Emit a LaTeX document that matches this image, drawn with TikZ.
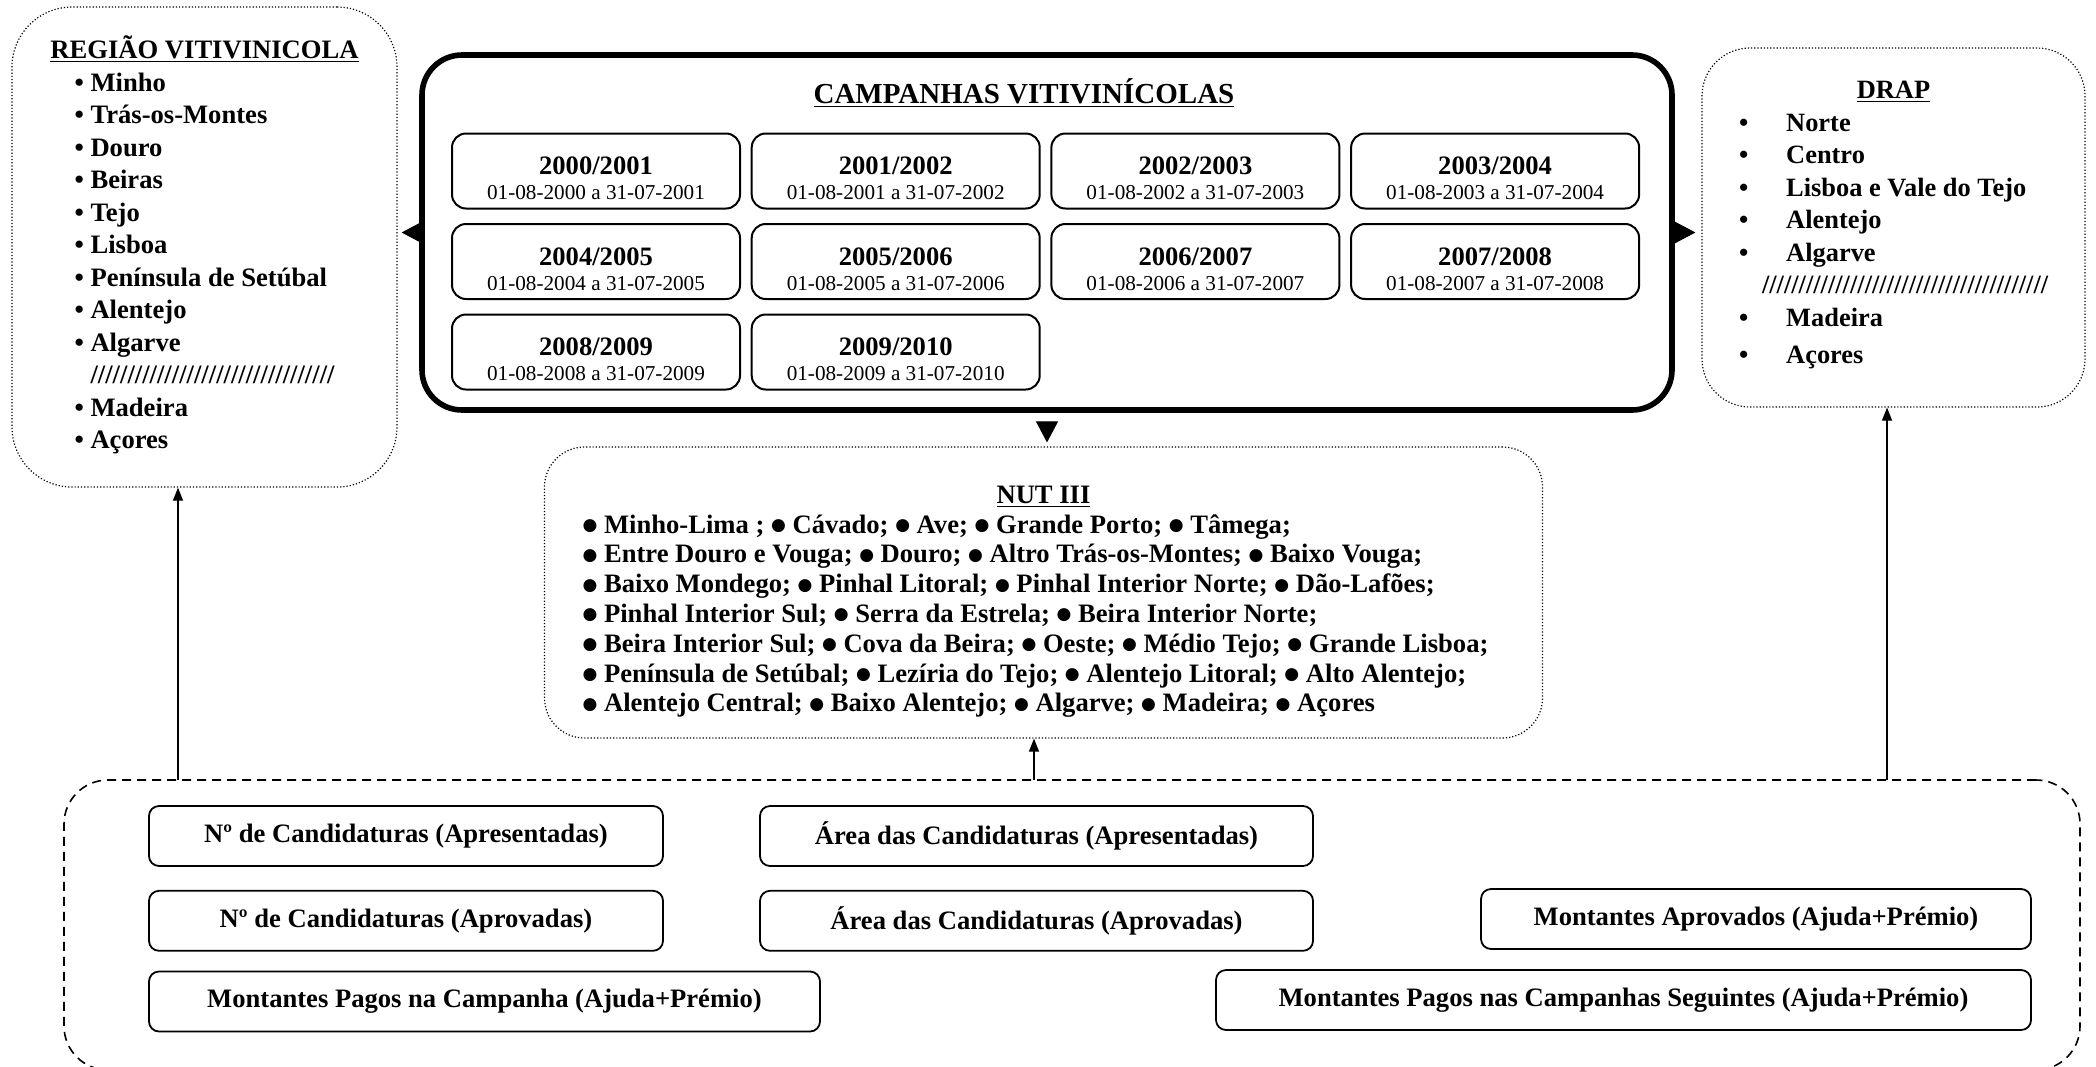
\documentclass[tikz,border=0pt]{standalone}
\usepackage{fontspec}
\setmainfont{Liberation Serif}
\newfontfamily\simbolo{DejaVu Sans}
\usetikzlibrary{positioning,arrows.meta}

\newcommand{\nb}{\raisebox{1.3pt}{\simbolo\fontsize{8.5}{10}\selectfont ●}\ }

\begin{document}
\begin{tikzpicture}[x=0.5pt, y=-0.5pt,
    lista/.style={draw, densely dotted, line width=0.6pt, align=center, inner sep=0pt},
    quadro/.style={draw, line width=2.8pt, rounded corners=20pt, minimum width=625pt, minimum height=177.5pt},
    campanha/.style={draw, line width=1pt, rounded corners=7pt, minimum width=144pt, minimum height=37.5pt, align=center, inner sep=0pt, font=\fontsize{10.6}{12.5}\selectfont},
    indicador/.style={draw, line width=0.9pt, rounded corners=5pt, minimum height=30pt, inner sep=0pt, font=\fontsize{13.3}{15}\selectfont\bfseries},
    fundo/.style={draw, dash pattern=on 4.5pt off 3pt, line width=0.8pt, rounded corners=22pt, minimum width=1008pt, minimum height=145pt},
    lado/.style={-{Triangle[length=10.5pt,width=11pt]}, line width=0.5pt},
    sobe/.style={-{Triangle[length=6.5pt,width=5pt]}, line width=0.6pt}]

    \useasboundingbox (0,0) rectangle (2096,1066);

    % regioes vitivinicolas
    \node[lista, rounded corners=30pt, minimum width=192.5pt, minimum height=240pt,
          font=\fontsize{13.3}{16.25}\selectfont\bfseries] (regiao) at (204.5,247) {\underline{REGIÃO VITIVINICOLA}\\
        \begin{tabular}[t]{@{}l@{}}
        \textbullet\ Minho\\
        \textbullet\ Trás-os-Montes\\
        \textbullet\ Douro\\
        \textbullet\ Beiras\\
        \textbullet\ Tejo\\
        \textbullet\ Lisboa\\
        \textbullet\ Península de Setúbal\\
        \textbullet\ Alentejo\\
        \textbullet\ Algarve\\
        \phantom{\textbullet\ }/////////////////////////////////\\
        \textbullet\ Madeira\\
        \textbullet\ Açores
        \end{tabular}};

    % campanhas
    \node[quadro] (campanhas) at (1047,232.5) {};
    \node[anchor=base, font=\fontsize{14.5}{17}\selectfont\bfseries] (titulo) at (1024,103) {\underline{CAMPANHAS VITIVINÍCOLAS}};

    \node[campanha] (c1) at (596,171) {{\fontsize{13.3}{12.5}\selectfont\bfseries\rule{0pt}{16.5pt}2000/2001}\\01-08-2000 a 31-07-2001};
    \node[campanha, right=4.85pt of c1] (c2) {{\fontsize{13.3}{12.5}\selectfont\bfseries\rule{0pt}{16.5pt}2001/2002}\\01-08-2001 a 31-07-2002};
    \node[campanha, right=4.85pt of c2] (c3) {{\fontsize{13.3}{12.5}\selectfont\bfseries\rule{0pt}{16.5pt}2002/2003}\\01-08-2002 a 31-07-2003};
    \node[campanha, right=4.85pt of c3] (c4) {{\fontsize{13.3}{12.5}\selectfont\bfseries\rule{0pt}{16.5pt}2003/2004}\\01-08-2003 a 31-07-2004};
    \node[campanha, below=6.75pt of c1] (c5) {{\fontsize{13.3}{12.5}\selectfont\bfseries\rule{0pt}{16.5pt}2004/2005}\\01-08-2004 a 31-07-2005};
    \node[campanha, right=4.85pt of c5] (c6) {{\fontsize{13.3}{12.5}\selectfont\bfseries\rule{0pt}{16.5pt}2005/2006}\\01-08-2005 a 31-07-2006};
    \node[campanha, right=4.85pt of c6] (c7) {{\fontsize{13.3}{12.5}\selectfont\bfseries\rule{0pt}{16.5pt}2006/2007}\\01-08-2006 a 31-07-2007};
    \node[campanha, right=4.85pt of c7] (c8) {{\fontsize{13.3}{12.5}\selectfont\bfseries\rule{0pt}{16.5pt}2007/2008}\\01-08-2007 a 31-07-2008};
    \node[campanha, below=6.75pt of c5] (c9) {{\fontsize{13.3}{12.5}\selectfont\bfseries\rule{0pt}{16.5pt}2008/2009}\\01-08-2008 a 31-07-2009};
    \node[campanha, right=4.85pt of c9] (c10) {{\fontsize{13.3}{12.5}\selectfont\bfseries\rule{0pt}{16.5pt}2009/2010}\\01-08-2009 a 31-07-2010};

    % DRAP
    \node[lista, rounded corners=24pt, minimum width=191.5pt, minimum height=179.5pt,
          font=\fontsize{13.2}{16.25}\selectfont\bfseries] (drap) at (1893.5,227.5) {\underline{DRAP}\\
        \begin{tabular}[t]{@{}l@{\hspace{19pt}}l@{}}
        \textbullet & Norte\\
        \textbullet & Centro\\
        \textbullet & Lisboa e Vale do Tejo\\
        \textbullet & Alentejo\\
        \textbullet & Algarve\\
        \multicolumn{2}{@{\hspace{11.5pt}}l@{}}{///////////////////////////////////////}\\
        \textbullet & Madeira\\[2.5pt]
        \textbullet & Açores
        \end{tabular}};

    % NUT III
    \node[lista, rounded corners=20pt, minimum width=499pt, minimum height=145.5pt,
          font=\fontsize{13.3}{14.9}\selectfont\bfseries] (nut) at (1043.5,592.5) {\rule{0pt}{19.5pt}\underline{NUT III}\\
        \begin{tabular}[t]{@{}l@{\hspace{8pt}}}
        \nb Minho-Lima ; \nb Cávado; \nb Ave; \nb Grande Porto; \nb Tâmega;\\
        \nb Entre Douro e Vouga; \nb Douro; \nb Altro Trás-os-Montes; \nb Baixo Vouga;\\
        \nb Baixo Mondego; \nb Pinhal Litoral; \nb Pinhal Interior Norte; \nb Dão-Lafões;\\
        \nb Pinhal Interior Sul; \nb Serra da Estrela; \nb Beira Interior Norte;\\
        \nb Beira Interior Sul; \nb Cova da Beira; \nb Oeste; \nb Médio Tejo; \nb Grande Lisboa;\\
        \nb Península de Setúbal; \nb Lezíria do Tejo; \nb Alentejo Litoral; \nb Alto Alentejo;\\
        \nb Alentejo Central; \nb Baixo Alentejo; \nb Algarve; \nb Madeira; \nb Açores
        \end{tabular}};

    % indicadores
    \node[fundo] (fundo) at (1072,925) {};
    \node[indicador, minimum width=257pt] (apres) at (406,836) {Nº de Candidaturas (Apresentadas)};
    \node[indicador, minimum width=276.5pt] (areaapres) at (1036.5,836) {Área das Candidaturas (Apresentadas)};
    \node[indicador, minimum width=257pt, below=11.5pt of apres] (aprov) {Nº de Candidaturas (Aprovadas)};
    \node[indicador, minimum width=276.5pt, below=11.5pt of areaapres] (areaaprov) {Área das Candidaturas (Aprovadas)};
    \node[indicador, minimum width=275pt] (montaprov) at (1756,919) {Montantes Aprovados (Ajuda+Prémio)};
    \node[indicador, minimum width=335.5pt] (pagos) at (484.5,1001.5) {Montantes Pagos na Campanha (Ajuda+Prémio)};
    \node[indicador, minimum width=407.5pt] (pagosseg) at (1623.5,1000) {Montantes Pagos nas Campanhas Seguintes (Ajuda+Prémio)};

    \draw[lado, shorten >=2pt] (campanhas.west) -- (campanhas.west -| regiao.east);
    \draw[lado, shorten >=3pt] (campanhas.east) -- (campanhas.east -| drap.west);
    \draw[lado, shorten <=7pt, shorten >=2pt] (campanhas.south) -- (campanhas.south |- nut.north);

    \coordinate (p1) at (178,780);
    \coordinate (p2) at (1034,780);
    \coordinate (p3) at (1887,780);
    \draw[sobe] (p1) -- (p1 |- regiao.south);
    \draw[sobe] (p2) -- (p2 |- nut.south);
    \draw[sobe] (p3) -- (p3 |- drap.south);
\end{tikzpicture}
\end{document}
